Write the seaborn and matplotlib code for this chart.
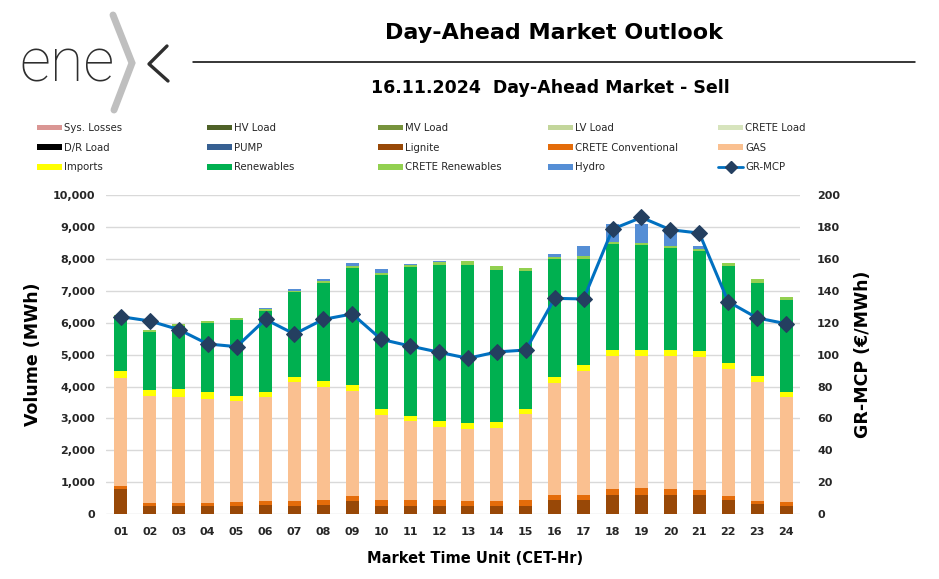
import numpy as np
import pandas as pd
import matplotlib
matplotlib.use("Agg")
import matplotlib.pyplot as plt
from matplotlib.patches import Patch
from matplotlib.lines import Line2D
from matplotlib.ticker import FuncFormatter
import seaborn as sns

# 每小時的數值 (MWh)
hours = ["%02d" % h for h in range(1, 25)]

lignite = [800, 270, 270, 270, 270, 300, 270, 290, 400, 270, 270, 270,
           270, 270, 270, 430, 430, 590, 590, 590, 590, 430, 320, 270]
crete_conv = [80, 90, 90, 90, 110, 110, 150, 160, 155, 160, 160, 160,
              150, 150, 160, 180, 180, 195, 220, 185, 155, 125, 90, 100]
gas = [3400, 3345, 3325, 3240, 3160, 3255, 3715, 3540, 3315, 2680, 2480, 2295,
       2250, 2285, 2700, 3490, 3890, 4185, 4160, 4195, 4195, 3995, 3745, 3295]
imports = [220, 190, 230, 220, 175, 175, 165, 175, 170, 180, 180, 185,
           180, 175, 180, 210, 175, 175, 185, 175, 175, 190, 175, 165]
renewables = [1690, 1825, 1985, 2180, 2370, 2540, 2675, 3090, 3675, 4205, 4645, 4910,
              4970, 4760, 4300, 3675, 3330, 3320, 3270, 3205, 3120, 3050, 2925, 2880]
crete_ren = [50, 50, 60, 55, 65, 40, 30, 60, 60, 65, 65, 80,
             125, 135, 115, 75, 75, 65, 60, 65, 65, 90, 105, 105]
hydro = [0, 0, 0, 0, 0, 50, 60, 65, 85, 110, 50, 45,
         0, 0, 0, 80, 320, 570, 615, 490, 115, 0, 0, 0]
sys_losses = [0] * 24
hv_load = [0] * 24
mv_load = [0] * 24
lv_load = [0] * 24
crete_load = [0] * 24
dr_load = [0] * 24
pump = [0] * 24

# GR-MCP (€/MWh)
mcp = [123.8, 121.1, 115.7, 106.7, 105.0, 122.1, 112.9, 122.1, 125.5, 109.6, 105.4, 101.5,
       97.7, 101.7, 102.9, 135.3, 134.9, 178.7, 186.0, 178.3, 176.2, 133.2, 123.0, 119.4]

# 疊加順序 (由下往上) 與顏色
stack = [
    ("Lignite", lignite, "#984807"),
    ("CRETE Conventional", crete_conv, "#E46C0A"),
    ("GAS", gas, "#FAC090"),
    ("Imports", imports, "#FFFF00"),
    ("Renewables", renewables, "#00B050"),
    ("CRETE Renewables", crete_ren, "#92D050"),
    ("Hydro", hydro, "#558ED5"),
    ("Sys. Losses", sys_losses, "#DA9694"),
    ("HV Load", hv_load, "#4F6228"),
    ("MV Load", mv_load, "#77933C"),
    ("LV Load", lv_load, "#C3D69B"),
    ("CRETE Load", crete_load, "#D7E4BD"),
    ("D/R Load", dr_load, "#000000"),
    ("PUMP", pump, "#376092"),
]
colors = {name: c for name, _, c in stack}

sns.set_theme(style="white")
plt.rcParams["font.family"] = ["DejaVu Sans"]

fig = plt.figure(figsize=(9.39, 5.79), dpi=100)
ax = fig.add_axes([0.1134, 0.112, 0.7391, 0.551])

bottom = np.zeros(len(hours))
for name, vals, c in stack:
    df = pd.DataFrame({"hour": hours, "value": vals})
    sns.barplot(data=df, x="hour", y="value", color=c, saturation=1,
                width=0.45, errorbar=None, linewidth=0, bottom=bottom,
                ax=ax, zorder=2)
    bottom = bottom + np.array(vals)

ax.set_xlim(-0.5, 23.5)
ax.set_ylim(0, 10000)
ax.set_yticks(np.arange(0, 10001, 1000))
ax.yaxis.grid(True, color="#D9D9D9", linewidth=1, zorder=0)
ax.set_axisbelow(True)
for s in ax.spines.values():
    s.set_visible(False)
ax.yaxis.set_major_formatter(FuncFormatter(lambda v, p: f"{int(v):,}"))
ax.tick_params(axis="y", length=0, labelsize=8, labelcolor="#262626", pad=8)
ax.tick_params(axis="x", length=0, labelsize=8, labelcolor="#262626", pad=9)
for lab in ax.get_xticklabels() + ax.get_yticklabels():
    lab.set_fontweight("bold")
ax.set_xlabel("Market Time Unit (CET-Hr)", fontsize=10.5, fontweight="bold",
              color="black")
ax.xaxis.set_label_coords(0.531, -0.115)
ax.set_ylabel("Volume (MWh)", fontsize=12.5, fontweight="bold", color="black",
              labelpad=8)

# 右軸: 價格
ax2 = ax.twinx()
sns.lineplot(x=hours, y=mcp, ax=ax2, color="#0070C0", linewidth=2.2,
             marker="D", markersize=8, markerfacecolor="#243F60",
             markeredgecolor="#243F60", sort=False)
ax2.set_ylim(0, 200)
ax2.set_yticks(np.arange(0, 201, 20))
for s in ax2.spines.values():
    s.set_visible(False)
ax2.grid(False)
ax2.tick_params(axis="y", length=0, labelsize=8, labelcolor="#262626", pad=12)
for lab in ax2.get_yticklabels():
    lab.set_fontweight("bold")
ax2.set_ylabel("GR-MCP (€/MWh)", fontsize=12.5, fontweight="bold", color="black",
               labelpad=10)

# 標題
fig.text(0.59, 0.943, "Day-Ahead Market Outlook", ha="center", va="center",
         fontsize=16, fontweight="bold", color="black")
fig.text(0.586, 0.848, "16.11.2024  Day-Ahead Market - Sell", ha="center",
         va="center", fontsize=12.5, fontweight="bold", color="black")
fig.add_artist(Line2D([193 / 939, 915 / 939], [1 - 62 / 579, 1 - 62 / 579],
                      color="black", linewidth=1.1, transform=fig.transFigure))

# logo
fig.text(19 / 939, 1 - 81 / 579, "ene", fontsize=44, color="#2E2E2E",
         family=["Roboto", "DejaVu Sans"], fontweight="light", va="baseline")
fig.add_artist(Line2D([113 / 939, 132 / 939, 114 / 939],
                      [1 - 15 / 579, 1 - 63 / 579, 1 - 110 / 579],
                      color="#BFBFBF", linewidth=5, solid_joinstyle="miter",
                      transform=fig.transFigure))
fig.add_artist(Line2D([167 / 939, 149 / 939, 168 / 939],
                      [1 - 46 / 579, 1 - 64 / 579, 1 - 81 / 579],
                      color="#2E2E2E", linewidth=2.4, transform=fig.transFigure))

# 圖例 (5 欄, 逐欄放置)
legend_cols = [
    ["Sys. Losses", "D/R Load", "Imports"],
    ["HV Load", "PUMP", "Renewables"],
    ["MV Load", "Lignite", "CRETE Renewables"],
    ["LV Load", "CRETE Conventional", "Hydro"],
    ["CRETE Load", "GAS", "GR-MCP"],
]
col_x = [37, 207, 378, 548, 718]
for names, x0 in zip(legend_cols, col_x):
    handles = []
    for n in names:
        if n == "GR-MCP":
            handles.append(Line2D([], [], color="#0070C0", linewidth=2, marker="D",
                                  markersize=6, markerfacecolor="#243F60",
                                  markeredgecolor="#243F60"))
        else:
            handles.append(Patch(facecolor=colors[n], edgecolor="none"))
    fig.legend(handles, names, loc="upper left", bbox_to_anchor=(x0 / 939, 1 - 123 / 579),
               frameon=False, fontsize=7.3, handlelength=2.5, handleheight=0.5,
               handletextpad=0.2, labelspacing=0.95, borderpad=0, borderaxespad=0,
               labelcolor="#262626")

fig.savefig("out.png", dpi=100)
